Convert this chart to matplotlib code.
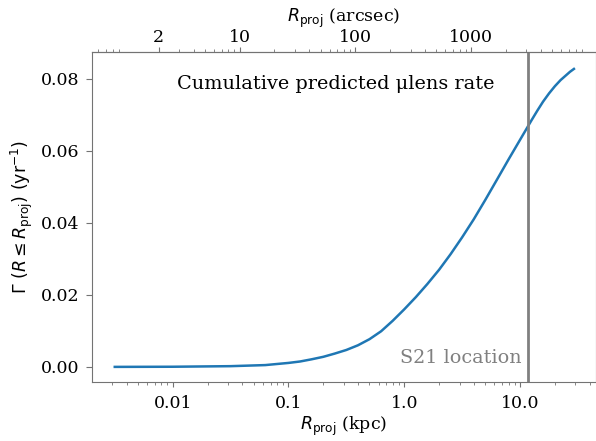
import matplotlib
matplotlib.use('Agg')
import matplotlib.pyplot as plt
import matplotlib.ticker as ticker

# cumulative predicted microlensing rate vs projected radius
r_kpc = [0.00316, 0.01, 0.0316, 0.063, 0.1, 0.126, 0.158, 0.2, 0.251, 0.316,
         0.398, 0.501, 0.631, 0.794, 1.0, 1.26, 1.58, 2.0, 2.51, 3.16,
         3.98, 5.01, 6.31, 7.94, 10.0, 12.6, 14.1, 15.8, 17.8, 20.0,
         22.4, 25.1, 27.0, 29.2]
rate = [0.0, 0.00004, 0.0002, 0.0005, 0.0011, 0.0015, 0.0021, 0.0028, 0.0037, 0.0047,
        0.0060, 0.0077, 0.0099, 0.0128, 0.0160, 0.0194, 0.0230, 0.0270, 0.0313, 0.0360,
        0.0410, 0.0464, 0.0520, 0.0576, 0.0631, 0.0686, 0.0712, 0.0737, 0.0760, 0.0780,
        0.0797, 0.0811, 0.0820, 0.0828]

s21_kpc = 11.8
dist_kpc = 780.0
top_ticks = [2, 10, 100, 1000]

plt.rcParams['font.family'] = 'DejaVu Serif'
plt.rcParams['mathtext.fontset'] = 'dejavusans'

fig = plt.figure(figsize=[5.96, 4.41], dpi=100)
ax = fig.add_axes([92/596, 1-382/441, (596-92)/596, (382-52)/441])

ax.plot(r_kpc, rate, color='#1f77b4', lw=1.8)

ax.set_xscale('log')
ax.set_xlim(10**-2.697, 10**1.656)
ax.set_ylim(-0.0042, 0.0875)
ax.axvline(s21_kpc, color='gray', lw=2)
ax.text(s21_kpc*0.87, 0.0, 'S21 location', color='gray', fontsize=13.8,
        ha='right', va='bottom')
ax.text(0.483, 0.93, 'Cumulative predicted μlens rate', transform=ax.transAxes,
        fontsize=13.9, ha='center', va='top')

ax.xaxis.set_major_formatter(ticker.FuncFormatter(lambda v, p: '%g' % v if v < 1 else '%.1f' % v))
ax.set_yticks([0, 0.02, 0.04, 0.06, 0.08])
ax.yaxis.set_major_formatter(ticker.FormatStrFormatter('%.2f'))
ax.tick_params(labelsize=12.5)
ax.tick_params(axis='x', pad=6)
ax.tick_params(axis='y', length=4.5, pad=4.5)
ax.set_xlabel(r'$R_{\rm proj}$ (kpc)', fontsize=12.5, labelpad=2)
ax.set_ylabel(r'$\Gamma\ (R \leq R_{\rm proj})\ ({\rm yr}^{-1})$', fontsize=12.5)

sec = ax.secondary_xaxis('top', functions=(lambda x: x/dist_kpc*206265.0,
                                            lambda a: a*dist_kpc/206265.0))
sec.xaxis.set_major_locator(ticker.FixedLocator(top_ticks))
sec.xaxis.set_major_formatter(ticker.FormatStrFormatter('%d'))
sec.tick_params(labelsize=12.5, pad=0.5)
sec.set_xlabel(r'$R_{\rm proj}$ (arcsec)', fontsize=12.5, labelpad=5)

for a in [ax, sec]:
    for s in a.spines.values():
        s.set_color('0.45')
ax.tick_params(which='both', color='0.45')
sec.tick_params(which='both', color='0.45')

fig.savefig('out.png', dpi=100)
